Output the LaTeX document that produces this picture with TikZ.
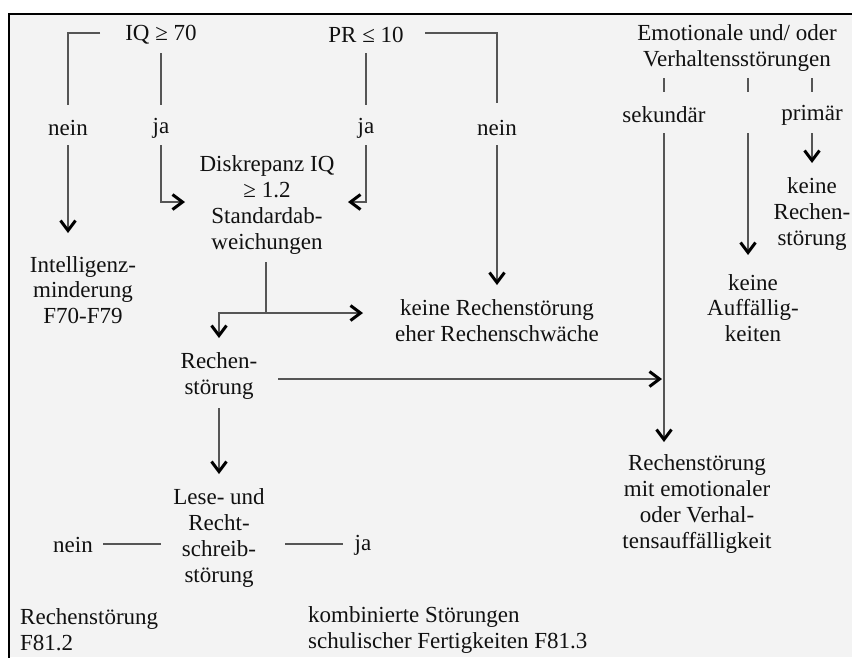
\documentclass[tikz,border=0pt]{standalone}
\usepackage{fontspec}
\setmainfont{Liberation Serif}
\usetikzlibrary{arrows.meta,calc}
\definecolor{panel}{HTML}{F3F3F3}
\definecolor{ink}{HTML}{111111}
\definecolor{wire}{HTML}{555555}

\begin{document}
\begin{tikzpicture}[x=1pt,y=-1pt,
  txt/.style={font=\fontsize{23}{25.8}\selectfont, text=ink, inner sep=0pt, align=center},
  wireline/.style={draw=wire, line width=1.4pt},
  barbtip/.tip={Straight Barb[length=10pt,width=15pt,line width=3pt 0,color=black]},
  pointed/.style={wireline, -barbtip},
  twopointed/.style={wireline, barbtip-barbtip},
]
\useasboundingbox (0,0) rectangle (852,657);
\fill[white] (0,0) rectangle (852,657);
\fill[panel] (9,14) rectangle (852,657);
\draw[black, line width=2pt] (9,660) -- (9,14) -- (855,14);

% conditions
\node[txt] (iq) at (161,35) {IQ ≥ 70};
\node[txt] (pr) at (366,35) {PR ≤ 10};
\node[txt] (emo) at (737,48) {Emotionale und/ oder\\Verhaltensstörungen};

% answers
\node[txt] (neinA) at (68,128) {nein};
\node[txt] (jaA) at (161,128) {ja};
\node[txt] (jaB) at (366,128) {ja};
\node[txt] (neinB) at (497,128) {nein};
\node[txt] (sek) at (664,115) {sekundär};
\node[txt] (prim) at (812,115) {primär};

% results and intermediate steps
\node[txt] (intel) at (83,290) {Intelligenz-\\minderung\\F70-F79};
\node[txt] (disk) at (267,205) {Diskrepanz IQ\\≥ 1.2\\Standardab-\\weichungen};
\node[txt] (keineR) at (497,321) {keine Rechenstörung\\eher Rechenschwäche};
\node[txt] (keineRS) at (812,214) {keine\\Rechen-\\störung};
\node[txt] (keineA) at (753,308) {keine\\Auffällig-\\keiten};
\node[txt] (rech) at (219,376) {Rechen-\\störung};
\node[txt] (lese) at (219,538) {Lese- und\\Recht-\\schreib-\\störung};
\node[txt] (neinC) at (73,545) {nein};
\node[txt] (jaC) at (363,545) {ja};
\node[txt] (rsEmo) at (697,504) {Rechenstörung\\mit emotionaler\\oder Verhal-\\tensauffälligkeit};
\node[txt, anchor=west, align=left] (f812) at (20,630) {Rechenstörung\\F81.2};
\node[txt, anchor=west, align=left] (f813) at (308,630) {kombinierte Störungen\\schulischer Fertigkeiten F81.3};

% IQ branch
\draw[wireline] ($(iq)+(-61,-2)$) -| ($(neinA)+(0,-23)$);
\draw[pointed] ($(neinA)+(0,17)$) -- ($(intel)+(-15,-57)$);
\draw[wireline] ($(iq)+(0,18)$) -- ($(jaA)+(0,-23)$);
\draw[pointed] ($(jaA)+(0,17)$) |- ($(disk)+(-82,-3)$);

% PR branch
\draw[wireline] ($(pr)+(0,18)$) -- ($(jaB)+(0,-23)$);
\draw[pointed] ($(jaB)+(0,17)$) |- ($(disk)+(81,-3)$);
\draw[wireline] ($(pr)+(59,-2)$) -| ($(neinB)+(0,-25)$);
\draw[pointed] ($(neinB)+(0,17)$) -- ($(keineR)+(0,-36)$);

% discrepancy split
\coordinate (split) at ($(disk)+(-1,108)$);
\draw[wireline] ($(disk)+(-1,57)$) -- (split);
\draw[twopointed] ($(rech)+(0,-38)$) |- ($(keineR)+(-134,-8)$);

% Rechenstörung onwards
\draw[pointed] ($(rech)+(59,3)$) -- ($(rech -| sek)+(-2,3)$);
\draw[pointed] ($(rech)+(0,32)$) -- ($(lese)+(0,-64)$);
\draw[wireline] ($(neinC)+(30,-1)$) -- ($(lese)+(-58,6)$);
\draw[wireline] ($(lese)+(66,6)$) -- ($(jaC)+(-20,-1)$);

% emotional / behavioural branch
\draw[wireline] ($(sek)+(0,-37)$) -- ($(sek)+(0,-23)$);
\draw[wireline] ($(emo)+(11,30)$) -- ($(emo)+(11,44)$);
\draw[wireline] ($(prim)+(0,-37)$) -- ($(prim)+(0,-23)$);
\draw[pointed] ($(sek)+(0,18)$) -- ($(rsEmo)+(-33,-62)$);
\draw[pointed] ($(emo)+(11,85)$) -- ($(keineA)+(-5,-53)$);
\draw[pointed] ($(prim)+(0,18)$) -- ($(keineRS)+(0,-51)$);
\end{tikzpicture}
\end{document}
